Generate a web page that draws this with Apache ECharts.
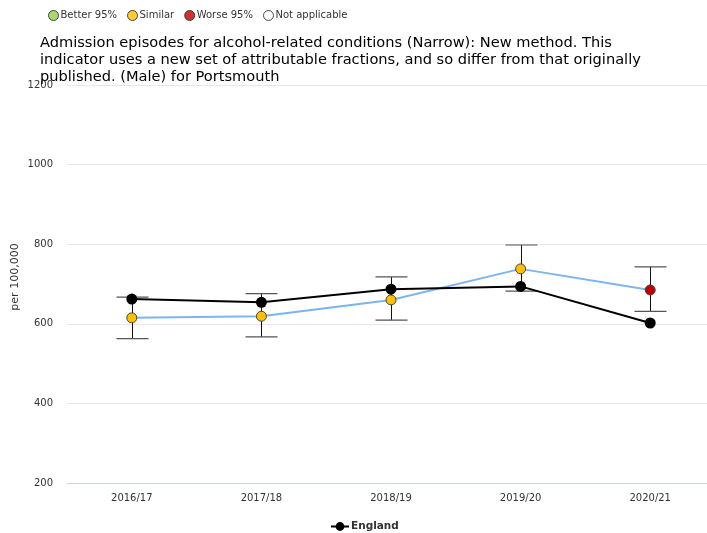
<!DOCTYPE html>
<html>
<head>
<meta charset="utf-8">
<script src="https://cdn.jsdelivr.net/npm/echarts@6/dist/echarts.min.js"></script>
<style>
html,body{margin:0;padding:0;background:#fff;}
#chart{width:707px;height:533px;}
</style>
</head>
<body>
<div id="chart"></div>
<script>
const categories = ['2016/17', '2017/18', '2018/19', '2019/20', '2020/21'];
const portsmouthValues = [615, 619, 660, 738, 685];
const portsmouthLower = [563, 567, 609, 682, 631];
const portsmouthUpper = [667, 676, 718, 798, 743];
const portsmouthSignificance = ['Similar', 'Similar', 'Similar', 'Similar', 'Worse 95%'];
const englandValues = [662, 654, 687, 694, 602];
const yTicks = [200, 400, 600, 800, 1000, 1200];
const keyNames = ['Better 95%', 'Similar', 'Worse 95%', 'Not applicable'];
const keyColors = {'Better 95%': '#92d050', 'Similar': '#ffc000', 'Worse 95%': '#c00000', 'Not applicable': '#ffffff'};

const FONT = 'DejaVu Sans';
const chart = echarts.init(document.getElementById('chart'));

const keySeries = keyNames.map(n => ({
  name: n, type: 'scatter', data: [],
  itemStyle: {color: keyColors[n], borderColor: '#333', borderWidth: 1}
}));

const option = {
  animation: false,
  backgroundColor: '#fff',
  textStyle: {fontFamily: FONT},
  title: {
    text: 'Admission episodes for alcohol-related conditions (Narrow): New method. This\nindicator uses a new set of attributable fractions, and so differ from that originally\npublished. (Male) for Portsmouth',
    left: 40, top: 35, padding: 0,
    textStyle: {fontFamily: FONT, fontSize: 14.6, fontWeight: 'normal', color: '#000', lineHeight: 17}
  },
  legend: [
    {
      data: keyNames,
      left: 48, top: 10, padding: 0,
      icon: 'circle', itemWidth: 10, itemHeight: 10, itemGap: 10,
      selectedMode: false,
      itemStyle: {borderWidth: 1, borderColor: '#222'},
      textStyle: {fontFamily: FONT, fontSize: 10, color: '#333', padding: [0, 0, 0, -3]}
    },
    {
      data: ['England'],
      left: 330, top: 521, padding: 0,
      itemWidth: 18, itemHeight: 11,
      selectedMode: false,
      textStyle: {fontFamily: FONT, fontSize: 10.5, fontWeight: 'bold', color: '#333', padding: [0, 0, 0, -3]}
    }
  ],
  grid: {left: 67, right: -8, top: 85, bottom: 50, containLabel: false, outerBoundsMode: 'none'},
  xAxis: {
    type: 'category', data: categories, boundaryGap: true,
    axisLine: {lineStyle: {color: '#ccd6eb'}},
    axisTick: {alignWithLabel: true, length: 4, lineStyle: {color: '#ccd6eb'}},
    axisLabel: {fontFamily: FONT, fontSize: 10, color: '#333', margin: 10}
  },
  yAxis: {
    type: 'value', min: yTicks[0], max: yTicks[yTicks.length - 1], interval: 200,
    name: 'per 100,000', nameLocation: 'middle', nameRotate: 90, nameGap: 46,
    nameMoveOverlap: false,
    nameTextStyle: {fontFamily: FONT, fontSize: 11, color: '#333', padding: [0, 0, 0, 14]},
    axisLine: {show: false}, axisTick: {show: false},
    axisLabel: {fontFamily: FONT, fontSize: 10, color: '#333', margin: 14, formatter: v => String(v)},
    splitLine: {lineStyle: {color: '#e6e6e6'}}
  },
  series: [
    ...keySeries,
    {
      name: 'CI', type: 'custom', z: 1,
      data: categories.map((c, i) => [i, portsmouthLower[i], portsmouthUpper[i]]),
      encode: {x: 0, y: [1, 2]},
      renderItem: function (params, api) {
        const i = api.value(0);
        const lo = api.coord([i, api.value(1)]);
        const hi = api.coord([i, api.value(2)]);
        const hw = 16;
        const x = Math.round(lo[0]) + 0.5;
        return {
          type: 'group',
          children: [
            {type: 'line', shape: {x1: x, y1: hi[1], x2: x, y2: lo[1]}, style: {stroke: '#111', lineWidth: 1}},
            {type: 'line', shape: {x1: x - hw, y1: hi[1], x2: x + hw, y2: hi[1]}, style: {stroke: '#555', lineWidth: 1.2}},
            {type: 'line', shape: {x1: x - hw, y1: lo[1], x2: x + hw, y2: lo[1]}, style: {stroke: '#555', lineWidth: 1.2}}
          ]
        };
      }
    },
    {
      name: 'Portsmouth', type: 'line', z: 3,
      data: portsmouthValues.map((v, i) => ({
        value: v,
        itemStyle: {color: keyColors[portsmouthSignificance[i]], borderColor: '#444', borderWidth: 1}
      })),
      symbol: 'circle', symbolSize: 10, showSymbol: true,
      lineStyle: {color: '#7cb5ec', width: 2}
    },
    {
      name: 'England', type: 'line', z: 4,
      data: englandValues,
      symbol: 'circle', symbolSize: 11,
      itemStyle: {color: '#000'},
      lineStyle: {color: '#000', width: 2}
    }
  ]
};
chart.setOption(option);
</script>
</body>
</html>
